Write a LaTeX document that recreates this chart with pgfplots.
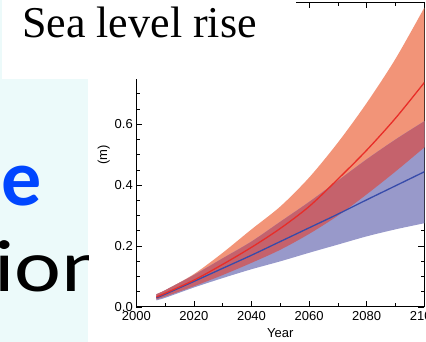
\documentclass[border=0pt]{standalone}
\usepackage{pgfplots}
\pgfplotsset{compat=1.18}
\usepackage{pgfplotstable}
\usepgfplotslibrary{fillbetween}
\usepackage{fontspec}
\setmainfont{Liberation Sans}
\newfontfamily\timesfont{Liberation Serif}
\newfontfamily\calfont{Carlito}
\definecolor{cyanbg}{RGB}{236,250,250}
\definecolor{orangeC}{RGB}{242,148,120}
\definecolor{blueC}{RGB}{152,153,202}
\definecolor{darkC}{RGB}{197,98,108}
\definecolor{redL}{RGB}{232,45,40}
\definecolor{blueL}{RGB}{55,75,170}
\definecolor{titleblue}{RGB}{0,70,255}
\pgfplotstableread{
x    ru    rm    rl
2007 0.042 0.033 0.025
2010 0.055 0.045 0.034
2020 0.108 0.088 0.068
2030 0.178 0.140 0.105
2040 0.255 0.196 0.145
2050 0.330 0.258 0.188
2060 0.425 0.330 0.240
2070 0.540 0.420 0.300
2080 0.670 0.515 0.370
2090 0.815 0.620 0.445
2100 0.983 0.737 0.524
}\redtab
\pgfplotstableread{
x    bu    bm    bl
2007 0.042 0.030 0.022
2010 0.055 0.042 0.030
2020 0.105 0.084 0.064
2030 0.160 0.127 0.095
2040 0.215 0.170 0.124
2050 0.280 0.215 0.150
2060 0.345 0.260 0.178
2070 0.415 0.305 0.205
2080 0.485 0.352 0.232
2090 0.550 0.398 0.255
2100 0.610 0.444 0.275
}\bluetab
\begin{document}
\begin{tikzpicture}
\fill[cyanbg] (0pt,0pt) rectangle (88pt,263pt);
\fill[cyanbg] (0pt,263pt) rectangle (2pt,342pt);
\begin{scope}
\clip (0pt,0pt) rectangle (88pt,263pt);
\node[anchor=base west, inner sep=0pt, text=titleblue] at (1pt,136pt) {\calfont\bfseries\fontsize{80}{90}\selectfont e};
\node[anchor=base west, inner sep=0pt, text=black] at (-6pt,50.3pt) {\scalebox{1.2}[1]{\calfont\fontsize{74}{80}\selectfont ion}};
\end{scope}
\begin{axis}[
  at={(136.3pt,35pt)}, anchor=south west,
  scale only axis, width=288pt, height=304.5pt,
  xmin=2000, xmax=2100, ymin=0, ymax=1.0,
  xtick={2000,2020,...,2100}, minor x tick num=1,
  ytick={0,0.2,...,1.0}, minor y tick num=3,
  tick align=inside,
  major tick length=6pt, minor tick length=3.5pt,
  every tick/.style={black, line width=0.8pt},
  axis line style={black, line width=1pt},
  /pgf/number format/assume math mode=true,
  xticklabel style={/pgf/number format/1000 sep={}, font=\fontsize{13}{15}\selectfont, yshift=-1pt},
  yticklabel style={/pgf/number format/fixed, /pgf/number format/fixed zerofill, /pgf/number format/precision=1, font=\fontsize{13}{15}\selectfont},
  xlabel={Year}, ylabel={(m)},
  label style={font=\fontsize{13}{15}\selectfont},
  xlabel style={yshift=-1pt},
  ylabel style={yshift=-2pt},
]
\addplot[draw=none, name path=ru, smooth] table[x=x,y=ru]{\redtab};
\addplot[draw=none, name path=rl, smooth] table[x=x,y=rl]{\redtab};
\addplot[draw=none, name path=bu, smooth] table[x=x,y=bu]{\bluetab};
\addplot[draw=none, name path=bl, smooth] table[x=x,y=bl]{\bluetab};
\addplot[fill=orangeC, draw=none] fill between[of=ru and rl];
\addplot[fill=blueC, draw=none] fill between[of=bu and bl];
\addplot[fill=darkC, draw=none] fill between[of=bu and rl];
\addplot[blueL, line width=1.3pt, smooth] table[x=x,y=bm]{\bluetab};
\addplot[redL, line width=1.3pt, smooth] table[x=x,y=rm]{\redtab};
\end{axis}
\fill[white] (2pt,263pt) rectangle (296pt,342pt);
\node[anchor=base west, inner sep=0pt] at (22pt,304pt) {\timesfont\fontsize{44}{50}\selectfont Sea level rise};
\pgfresetboundingbox
\useasboundingbox (0pt,0pt) rectangle (426pt,342pt);
\end{tikzpicture}
\end{document}
